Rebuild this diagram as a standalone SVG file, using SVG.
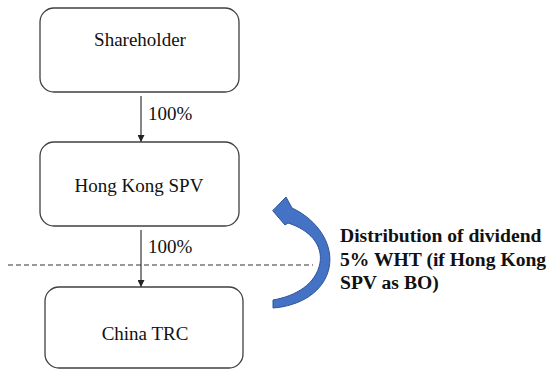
<svg xmlns="http://www.w3.org/2000/svg" width="551" height="370" viewBox="0 0 551 370">
  <style>
    text { font-family: "Liberation Serif", "Times New Roman", "DejaVu Serif", serif; fill: #111111; }
    .box { fill: #ffffff; stroke: #404040; stroke-width: 1.3; }
    .label { font-size: 19px; }
    .pct { font-size: 19px; }
    .note { font-size: 19.6px; font-weight: bold; }
    .link { stroke: #222222; stroke-width: 1.1; fill: none; }
  </style>
  <defs>
    <marker id="tri" viewBox="0 0 10 10" refX="10" refY="5" markerWidth="7" markerHeight="7" markerUnits="userSpaceOnUse" orient="auto">
      <path d="M0,0 L10,5 L0,10 Z" fill="#222222"/>
    </marker>
  </defs>
  <rect width="551" height="370" fill="#ffffff"/>

  <!-- treaty boundary -->
  <line x1="8" y1="265" x2="313" y2="265" stroke="#333333" stroke-width="1" stroke-dasharray="5,3"/>

  <g id="connectors">
    <line class="link" x1="141" y1="96" x2="141" y2="142" marker-end="url(#tri)"/>
    <text class="pct" x="148" y="120">100%</text>
    <line class="link" x1="141" y1="230" x2="141" y2="287" marker-end="url(#tri)"/>
    <text class="pct" x="148" y="253">100%</text>
  </g>

  <g id="shareholder">
    <rect class="box" x="40" y="8" width="199" height="84" rx="14"/>
    <text class="label" x="140" y="46" text-anchor="middle">Shareholder</text>
  </g>

  <g id="hk-spv">
    <rect class="box" x="40" y="142" width="199" height="84" rx="14"/>
    <text class="label" x="139" y="192" text-anchor="middle">Hong Kong SPV</text>
  </g>

  <g id="china-trc">
    <rect class="box" x="45" y="287" width="198" height="81" rx="14"/>
    <text class="label" x="145" y="340" text-anchor="middle">China TRC</text>
  </g>

  <!-- dividend flow: curved arrow back up to the SPV -->
  <g id="dividend-flow">
    <path d="M292,208 C318,220 334,245 329,268 C324,292 300,306 273,308 L273,300 C296,296 316,284 320,263 C323,245 310,230 288,223 L285,225 L272.7,210.7 L286,197 Z" fill="#4472C4" stroke="#2F5597" stroke-width="1"/>
    <text class="note" x="340" y="242">Distribution of dividend</text>
    <text class="note" x="340" y="266">5% WHT (if Hong Kong</text>
    <text class="note" x="340" y="289">SPV as BO)</text>
  </g>
</svg>
